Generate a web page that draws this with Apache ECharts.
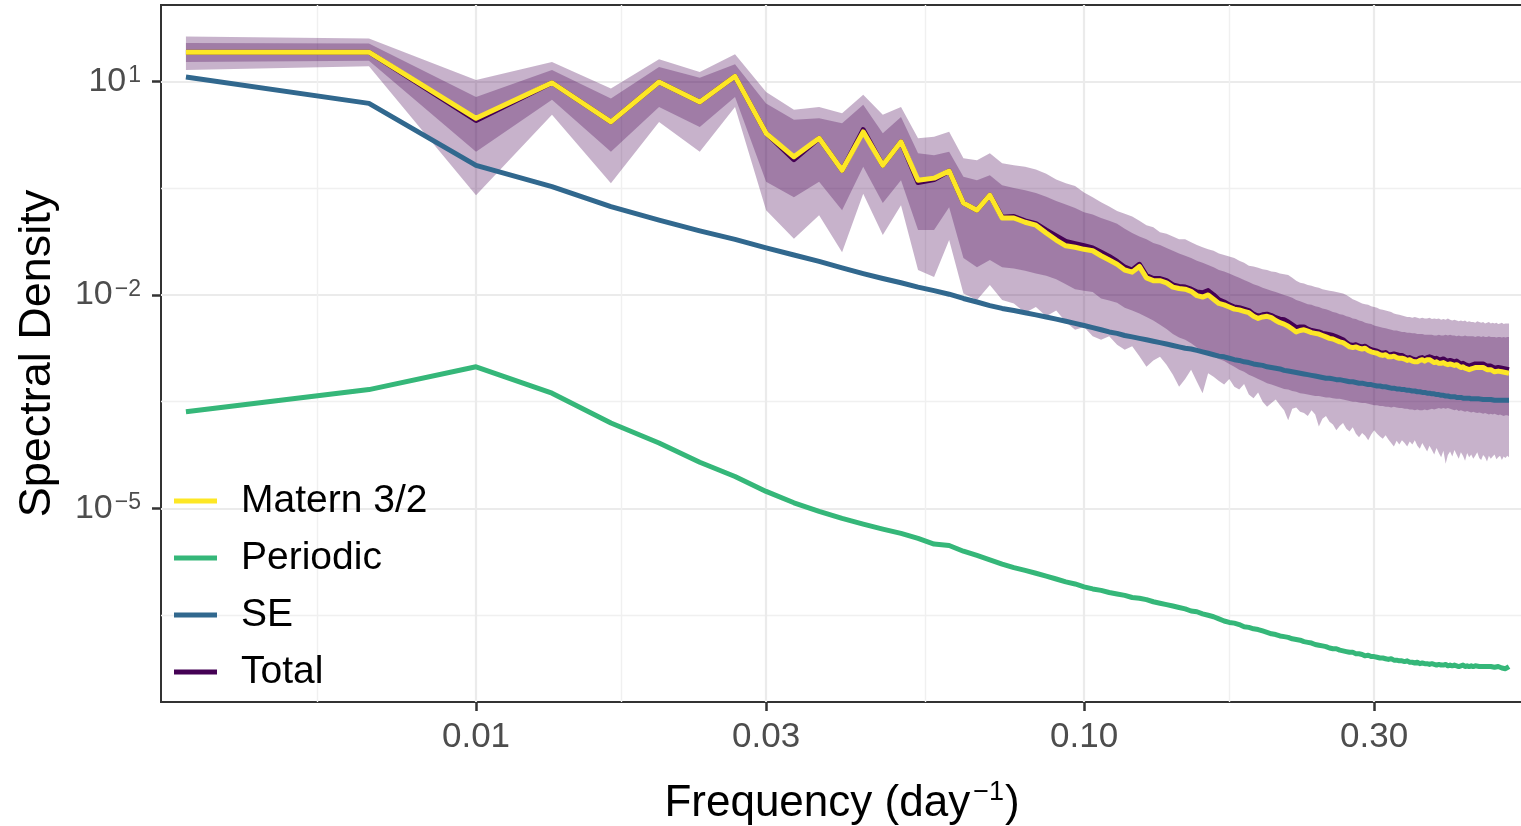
<!DOCTYPE html>
<html>
<head>
<meta charset="utf-8">
<script src="https://cdn.jsdelivr.net/npm/echarts@6/dist/echarts.min.js"></script>
<style>
  html, body { margin: 0; padding: 0; background: #fff; }
  #chart { width: 1521px; height: 826px; }
</style>
</head>
<body>
<div id="chart"></div>
<script>
// Fourier frequencies k / 300 day^-1, k = 1..150
const nDays = 300
const freq = Array.from({ length: 150 }, (_, i) => (i + 1) / nDays)

// all densities below are log10 values, one per frequency
const maternLog = [
  1.41, 1.41, 0.48, 0.98, 0.43, 0.99, 0.71, 1.07, 0.27, -0.06,
  0.20, -0.25, 0.29, -0.18, 0.15, -0.39, -0.36, -0.26, -0.71, -0.81,
  -0.60, -0.92, -0.92, -0.98, -1.02, -1.13, -1.23, -1.31, -1.33, -1.36,
  -1.38, -1.45, -1.51, -1.57, -1.65, -1.68, -1.60, -1.76, -1.80, -1.80,
  -1.83, -1.89, -1.91, -1.92, -1.95, -2.01, -2.03, -2.00, -2.06, -2.12,
  -2.14, -2.17, -2.20, -2.21, -2.23, -2.25, -2.30, -2.33, -2.31, -2.30,
  -2.32, -2.36, -2.39, -2.41, -2.44, -2.48, -2.52, -2.50, -2.49, -2.51,
  -2.53, -2.54, -2.55, -2.57, -2.59, -2.61, -2.62, -2.64, -2.66, -2.67,
  -2.70, -2.73, -2.74, -2.73, -2.75, -2.76, -2.75, -2.78, -2.80, -2.81,
  -2.82, -2.84, -2.85, -2.84, -2.87, -2.87, -2.86, -2.88, -2.89, -2.89,
  -2.90, -2.92, -2.91, -2.93, -2.94, -2.94, -2.92, -2.91, -2.93, -2.91,
  -2.91, -2.93, -2.95, -2.94, -2.96, -2.96, -2.95, -2.97, -2.98, -2.97,
  -2.98, -2.99, -2.98, -3.00, -3.02, -3.01, -3.03, -3.04, -3.05, -3.04,
  -3.03, -3.02, -3.01, -3.02, -3.01, -3.02, -3.04, -3.05, -3.06, -3.05,
  -3.07, -3.08, -3.08, -3.07, -3.09, -3.08, -3.10, -3.09, -3.11, -3.10
]

const totalLog = [
  1.41, 1.41, 0.45, 0.98, 0.43, 0.99, 0.71, 1.07, 0.27, -0.10,
  0.20, -0.25, 0.32, -0.18, 0.15, -0.42, -0.38, -0.26, -0.71, -0.81,
  -0.60, -0.91, -0.90, -0.96, -1.00, -1.09, -1.17, -1.25, -1.28, -1.31,
  -1.34, -1.40, -1.46, -1.53, -1.61, -1.65, -1.57, -1.73, -1.77, -1.77,
  -1.80, -1.86, -1.88, -1.89, -1.92, -1.96, -1.97, -1.94, -2.00, -2.07,
  -2.10, -2.14, -2.17, -2.18, -2.20, -2.22, -2.27, -2.30, -2.28, -2.27,
  -2.29, -2.32, -2.34, -2.35, -2.38, -2.42, -2.46, -2.45, -2.45, -2.48,
  -2.50, -2.51, -2.52, -2.54, -2.55, -2.56, -2.57, -2.59, -2.61, -2.63,
  -2.67, -2.70, -2.71, -2.70, -2.72, -2.73, -2.72, -2.75, -2.77, -2.78,
  -2.79, -2.81, -2.82, -2.81, -2.84, -2.84, -2.83, -2.84, -2.85, -2.85,
  -2.87, -2.89, -2.88, -2.90, -2.91, -2.91, -2.89, -2.88, -2.90, -2.88,
  -2.87, -2.88, -2.90, -2.89, -2.91, -2.91, -2.90, -2.92, -2.93, -2.92,
  -2.93, -2.94, -2.93, -2.95, -2.97, -2.96, -2.98, -2.99, -3.00, -2.99,
  -2.98, -2.97, -2.96, -2.97, -2.96, -2.97, -2.99, -3.00, -3.01, -3.00,
  -3.02, -3.03, -3.03, -3.02, -3.04, -3.03, -3.05, -3.04, -3.06, -3.05
]

const seLog = [
  1.06, 0.69, -0.18, -0.48, -0.76, -0.95, -1.10, -1.22, -1.34, -1.44,
  -1.53, -1.62, -1.70, -1.77, -1.83, -1.89, -1.94, -1.99, -2.05, -2.10,
  -2.15, -2.19, -2.22, -2.25, -2.28, -2.31, -2.34, -2.37, -2.40, -2.43,
  -2.46, -2.49, -2.52, -2.54, -2.57, -2.59, -2.61, -2.63, -2.65, -2.67,
  -2.69, -2.71, -2.73, -2.75, -2.76, -2.78, -2.80, -2.82, -2.84, -2.86,
  -2.87, -2.89, -2.91, -2.92, -2.94, -2.95, -2.97, -2.98, -2.99, -3.01,
  -3.02, -3.03, -3.04, -3.06, -3.07, -3.08, -3.09, -3.10, -3.11, -3.12,
  -3.13, -3.14, -3.15, -3.16, -3.17, -3.17, -3.18, -3.19, -3.19, -3.20,
  -3.21, -3.22, -3.22, -3.23, -3.24, -3.24, -3.25, -3.26, -3.26, -3.27,
  -3.28, -3.28, -3.29, -3.29, -3.30, -3.31, -3.31, -3.32, -3.32, -3.33,
  -3.33, -3.34, -3.34, -3.35, -3.35, -3.36, -3.36, -3.37, -3.37, -3.38,
  -3.38, -3.39, -3.39, -3.40, -3.40, -3.41, -3.41, -3.42, -3.42, -3.43,
  -3.43, -3.43, -3.44, -3.44, -3.44, -3.45, -3.45, -3.45, -3.45, -3.46,
  -3.46, -3.46, -3.46, -3.46, -3.47, -3.47, -3.47, -3.47, -3.47, -3.47,
  -3.47, -3.48, -3.48, -3.48, -3.48, -3.48, -3.48, -3.48, -3.48, -3.48
]

const periodicLog = [
  -3.64, -3.33, -3.01, -3.38, -3.80, -4.08, -4.35, -4.55, -4.76, -4.92,
  -5.04, -5.14, -5.22, -5.29, -5.35, -5.42, -5.50, -5.52, -5.60, -5.66,
  -5.72, -5.78, -5.83, -5.87, -5.91, -5.95, -5.99, -6.03, -6.06, -6.10,
  -6.13, -6.15, -6.18, -6.20, -6.22, -6.25, -6.26, -6.28, -6.31, -6.33,
  -6.35, -6.37, -6.39, -6.41, -6.44, -6.45, -6.48, -6.50, -6.52, -6.55,
  -6.58, -6.60, -6.61, -6.63, -6.66, -6.67, -6.69, -6.70, -6.72, -6.74,
  -6.76, -6.77, -6.79, -6.80, -6.81, -6.83, -6.84, -6.85, -6.87, -6.88,
  -6.89, -6.91, -6.92, -6.93, -6.94, -6.96, -6.97, -6.97, -6.99, -7.00,
  -7.01, -7.02, -7.02, -7.04, -7.04, -7.05, -7.07, -7.06, -7.08, -7.08,
  -7.09, -7.10, -7.10, -7.11, -7.12, -7.11, -7.13, -7.13, -7.14, -7.14,
  -7.15, -7.14, -7.16, -7.16, -7.17, -7.16, -7.18, -7.17, -7.18, -7.18,
  -7.19, -7.18, -7.19, -7.20, -7.19, -7.20, -7.20, -7.19, -7.21, -7.20,
  -7.21, -7.20, -7.21, -7.22, -7.21, -7.20, -7.22, -7.21, -7.22, -7.21,
  -7.22, -7.21, -7.23, -7.22, -7.21, -7.22, -7.23, -7.22, -7.23, -7.22,
  -7.21, -7.23, -7.24, -7.22, -7.23, -7.24, -7.22, -7.25, -7.23, -7.22
]

// ribbons around Total: 95% (outer) and 50% (inner) bands
const lo95Log = [
  1.16, 1.21, -0.60, 0.53, -0.43, 0.43, 0.01, 0.64, -0.81, -1.21,
  -0.88, -1.40, -0.58, -1.16, -0.74, -1.65, -1.75, -1.23, -1.98, -2.07,
  -1.86, -2.07, -2.12, -2.25, -2.17, -2.30, -2.22, -2.38, -2.49, -2.45,
  -2.58, -2.63, -2.58, -2.70, -2.77, -2.72, -2.86, -3.01, -2.92, -2.87,
  -2.98, -3.12, -3.29, -3.18, -3.05, -3.22, -3.38, -3.10, -3.15, -3.21,
  -3.26, -3.18, -3.29, -3.33, -3.25, -3.40, -3.45, -3.37, -3.50, -3.57,
  -3.52, -3.47, -3.55, -3.62, -3.76, -3.60, -3.58, -3.64, -3.66, -3.70,
  -3.62, -3.68, -3.85, -3.74, -3.70, -3.78, -3.82, -3.90, -3.84, -3.80,
  -3.88, -3.92, -3.86, -3.95, -4.00, -3.94, -3.98, -4.04, -3.96, -3.90,
  -3.95, -3.99, -4.02, -3.97, -4.03, -4.08, -4.13, -4.05, -4.10, -4.04,
  -4.08, -4.13, -4.06, -4.10, -4.04, -4.12, -4.16, -4.08, -4.14, -4.20,
  -4.12, -4.18, -4.24, -4.15, -4.22, -4.28, -4.19, -4.37, -4.25, -4.20,
  -4.27, -4.18, -4.24, -4.30, -4.21, -4.26, -4.33, -4.22, -4.28, -4.24,
  -4.30, -4.26, -4.21, -4.29, -4.32, -4.25, -4.28, -4.34, -4.26, -4.30,
  -4.27, -4.24, -4.31, -4.28, -4.26, -4.32, -4.27, -4.29, -4.26, -4.28
]

const lo50Log = [
  1.27, 1.29, 0.01, 0.74, 0.01, 0.64, 0.36, 0.78, -0.41, -0.63,
  -0.41, -0.81, -0.20, -0.71, -0.39, -1.09, -1.09, -0.77, -1.48, -1.61,
  -1.51, -1.61, -1.63, -1.66, -1.70, -1.73, -1.78, -1.85, -1.92, -1.94,
  -1.96, -2.05, -2.08, -2.11, -2.18, -2.22, -2.26, -2.31, -2.36, -2.42,
  -2.48, -2.55, -2.60, -2.63, -2.68, -2.74, -2.79, -2.84, -2.86, -2.90,
  -2.93, -2.97, -3.01, -3.05, -3.08, -3.12, -3.15, -3.18, -3.21, -3.24,
  -3.26, -3.28, -3.30, -3.32, -3.33, -3.35, -3.36, -3.38, -3.39, -3.40,
  -3.41, -3.42, -3.42, -3.43, -3.44, -3.44, -3.45, -3.46, -3.46, -3.47,
  -3.48, -3.49, -3.50, -3.50, -3.51, -3.52, -3.52, -3.53, -3.54, -3.55,
  -3.55, -3.56, -3.56, -3.57, -3.57, -3.58, -3.57, -3.58, -3.59, -3.59,
  -3.60, -3.60, -3.61, -3.61, -3.62, -3.61, -3.62, -3.62, -3.61, -3.62,
  -3.61, -3.60, -3.61, -3.60, -3.59, -3.60, -3.59, -3.60, -3.59, -3.60,
  -3.61, -3.62, -3.61, -3.63, -3.62, -3.63, -3.64, -3.63, -3.64, -3.65,
  -3.64, -3.65, -3.66, -3.65, -3.66, -3.67, -3.66, -3.67, -3.68, -3.67,
  -3.68, -3.67, -3.68, -3.69, -3.68, -3.69, -3.70, -3.69, -3.69, -3.70
]

const hi50Log = [
  1.54, 1.53, 0.78, 1.16, 0.76, 1.20, 1.05, 1.24, 0.69, 0.46,
  0.48, 0.41, 0.67, 0.27, 0.50, -0.01, -0.04, 0.01, -0.34, -0.39,
  -0.32, -0.46, -0.50, -0.53, -0.57, -0.62, -0.68, -0.73, -0.78, -0.84,
  -0.87, -0.92, -0.96, -1.00, -1.07, -1.13, -1.18, -1.22, -1.27, -1.30,
  -1.34, -1.38, -1.42, -1.45, -1.48, -1.52, -1.55, -1.58, -1.61, -1.65,
  -1.67, -1.70, -1.73, -1.76, -1.79, -1.82, -1.85, -1.87, -1.90, -1.92,
  -1.94, -1.96, -1.98, -2.00, -2.02, -2.04, -2.07, -2.09, -2.11, -2.13,
  -2.14, -2.16, -2.17, -2.19, -2.20, -2.22, -2.24, -2.25, -2.27, -2.28,
  -2.30, -2.31, -2.33, -2.34, -2.36, -2.37, -2.39, -2.40, -2.41, -2.43,
  -2.44, -2.45, -2.46, -2.47, -2.48, -2.49, -2.50, -2.50, -2.51, -2.52,
  -2.52, -2.53, -2.53, -2.54, -2.54, -2.55, -2.55, -2.55, -2.56, -2.56,
  -2.56, -2.56, -2.57, -2.57, -2.56, -2.57, -2.57, -2.56, -2.57, -2.56,
  -2.57, -2.57, -2.58, -2.57, -2.58, -2.58, -2.57, -2.58, -2.58, -2.58,
  -2.58, -2.59, -2.58, -2.58, -2.59, -2.58, -2.59, -2.59, -2.58, -2.59,
  -2.59, -2.59, -2.60, -2.59, -2.59, -2.60, -2.59, -2.60, -2.59, -2.59
]

const hi95Log = [
  1.63, 1.60, 1.02, 1.27, 0.90, 1.31, 1.13, 1.38, 0.85, 0.60,
  0.64, 0.55, 0.81, 0.53, 0.64, 0.20, 0.22, 0.29, -0.08, -0.11,
  -0.01, -0.15, -0.18, -0.20, -0.24, -0.30, -0.38, -0.43, -0.47, -0.56,
  -0.63, -0.70, -0.76, -0.82, -0.86, -0.90, -0.96, -1.02, -1.05, -1.12,
  -1.14, -1.18, -1.22, -1.22, -1.26, -1.30, -1.33, -1.36, -1.38, -1.42,
  -1.44, -1.46, -1.48, -1.52, -1.55, -1.59, -1.60, -1.62, -1.64, -1.65,
  -1.67, -1.68, -1.70, -1.71, -1.72, -1.76, -1.80, -1.83, -1.84, -1.86,
  -1.87, -1.89, -1.90, -1.92, -1.93, -1.94, -1.95, -1.96, -1.97, -1.98,
  -2.00, -2.03, -2.06, -2.08, -2.10, -2.12, -2.13, -2.14, -2.16, -2.17,
  -2.18, -2.20, -2.21, -2.22, -2.23, -2.24, -2.26, -2.27, -2.28, -2.29,
  -2.30, -2.31, -2.31, -2.32, -2.31, -2.32, -2.33, -2.32, -2.33, -2.33,
  -2.32, -2.34, -2.33, -2.34, -2.33, -2.35, -2.34, -2.35, -2.33, -2.35,
  -2.36, -2.35, -2.36, -2.37, -2.36, -2.37, -2.36, -2.38, -2.37, -2.38,
  -2.38, -2.39, -2.37, -2.38, -2.39, -2.38, -2.40, -2.39, -2.38, -2.40,
  -2.39, -2.40, -2.39, -2.41, -2.40, -2.39, -2.41, -2.40, -2.40, -2.40
]

// axis breaks
const xBreaks = [0.01, 0.03, 0.1, 0.3]
const xMinorBreaks = [0.005477, 0.01732, 0.05477, 0.1732]
const yBreaks = [1e-5, 1e-2, 10]
const yMinorBreaks = [3.162e-7, 3.162e-4, 0.3162]

const font = '"Liberation Sans", Arial, Helvetica, sans-serif'
const xMin = 0.003033
const xMax = 0.5272
const yMin = Math.pow(10, -7.718)
const yMax = Math.pow(10, 2.072)

const toPairs = (logs) => logs.map((v, i) => [freq[i], Math.pow(10, v)])

const ribbon = (lo, hi, name) => ({
  type: 'custom',
  name: name,
  silent: true,
  z: 1,
  data: [[freq[0], Math.pow(10, hi[0])]],
  renderItem: (params, api) => {
    const pts = []
    for (let i = 0; i < freq.length; i++) pts.push(api.coord([freq[i], Math.pow(10, hi[i])]))
    for (let i = freq.length - 1; i >= 0; i--) pts.push(api.coord([freq[i], Math.pow(10, lo[i])]))
    return { type: 'polygon', shape: { points: pts }, style: { fill: 'rgba(68,1,84,0.3)' } }
  }
})

const line = (name, logs, color) => ({
  name: name,
  type: 'line',
  data: toPairs(logs),
  symbol: 'none',
  z: 3,
  itemStyle: { color: color },
  lineStyle: { color: color, width: 5, join: 'round' }
})

const supLabel = (v) => {
  const e = Math.round(Math.log10(v))
  return '{b|10}{e|' + (e < 0 ? '\u2212' : '') + Math.abs(e) + '}'
}

const chart = echarts.init(document.getElementById('chart'))
chart.setOption({
  animation: false,
  backgroundColor: '#ffffff',
  grid: {
    left: 161, top: 5, right: -2, bottom: 124,
    outerBoundsMode: 'none',
    show: true, borderColor: '#333333', borderWidth: 2
  },
  legend: {
    orient: 'vertical',
    left: 174,
    top: 478,
    padding: 0,
    itemGap: 11,
    itemWidth: 43,
    itemHeight: 5,
    icon: 'rect',
    data: ['Matern 3/2', 'Periodic', 'SE', 'Total'],
    textStyle: { fontFamily: font, fontSize: 39, color: '#000', lineHeight: 46, padding: [0, 0, 0, 19] }
  },
  xAxis: [
    {
      type: 'log',
      min: xMin,
      max: xMax,
      name: 'Frequency (day{s|\u22121})',
      nameLocation: 'middle',
      nameGap: 77,
      nameTextStyle: {
        fontFamily: font, fontSize: 44, color: '#000',
        rich: {
          s: { fontFamily: font, fontSize: 27, color: '#000', verticalAlign: 'top', padding: [0, 1, 22, 3] }
        }
      },
      axisLine: { show: false },
      axisTick: { show: true, length: 9, customValues: xBreaks, lineStyle: { color: '#333', width: 2.5 } },
      axisLabel: {
        customValues: xBreaks,
        margin: 18,
        fontFamily: font, fontSize: 35, color: '#4d4d4d',
        formatter: (v) => v.toFixed(2)
      },
      splitLine: { show: true, lineStyle: { color: '#ebebeb', width: 2.2 } }
    },
    {
      type: 'log',
      min: xMin,
      max: xMax,
      axisLine: { show: false },
      axisTick: { show: false, customValues: xMinorBreaks },
      axisLabel: { show: false, customValues: xMinorBreaks },
      splitLine: { show: true, lineStyle: { color: '#f0f0f0', width: 1.4 } }
    }
  ],
  yAxis: [
    {
      type: 'log',
      min: yMin,
      max: yMax,
      name: 'Spectral Density',
      nameLocation: 'middle',
      nameGap: 101,
      nameTextStyle: { fontFamily: font, fontSize: 45, color: '#000' },
      axisLine: { show: false },
      axisTick: { show: true, length: 9, customValues: yBreaks, lineStyle: { color: '#333', width: 2.5 } },
      axisLabel: {
        customValues: yBreaks,
        margin: 20,
        formatter: supLabel,
        rich: {
          b: { fontFamily: font, fontSize: 34, color: '#4d4d4d' },
          e: { fontFamily: font, fontSize: 23, color: '#4d4d4d', verticalAlign: 'top', padding: [0, 0, 8, 2] }
        }
      },
      splitLine: { show: true, lineStyle: { color: '#ebebeb', width: 2.2 } }
    },
    {
      type: 'log',
      min: yMin,
      max: yMax,
      axisLine: { show: false },
      axisTick: { show: false, customValues: yMinorBreaks },
      axisLabel: { show: false, customValues: yMinorBreaks },
      splitLine: { show: true, lineStyle: { color: '#f0f0f0', width: 1.4 } }
    }
  ],
  series: [
    ribbon(lo95Log, hi95Log, 'band95'),
    ribbon(lo50Log, hi50Log, 'band50'),
    line('Total', totalLog, '#440154'),
    line('SE', seLog, '#31688e'),
    line('Periodic', periodicLog, '#35b779'),
    line('Matern 3/2', maternLog, '#fde725')
  ]
})
</script>
</body>
</html>
